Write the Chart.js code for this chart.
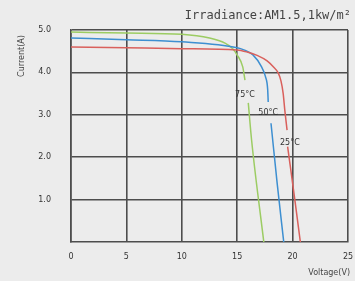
<!DOCTYPE html>
<html>
<head>
  <meta charset="utf-8" />
  <title>I-V curves</title>
  <script src="https://cdn.jsdelivr.net/npm/chart.js"></script>
  <style>
    html, body { margin: 0; padding: 0; background: #ececec; }
    #wrap { width: 355px; height: 281px; }
  </style>
</head>
<body>
  <div id="wrap"><canvas id="ivChart" width="355" height="281"></canvas></div>

  <script>
    // Voltage (V) / current (A) points, null = gap under a label
    const v25 = [0, 5, 10, 15, 15.9, 16.8, 17.7, 18.3, 18.7, 18.95, 19.15, 19.3, 19.5, 19.5, 19.55, 20.2, 20.7];
    const i25 = [4.6, 4.58, 4.56, 4.53, 4.48, 4.4, 4.27, 4.12, 3.99, 3.8, 3.5, 3.1, 2.64, null, 2.25, 1.0, 0];

    const v50 = [0, 5, 10, 15, 15.6, 16.4, 17.2, 17.55, 17.75, 17.8, 17.8, 18.05, 18.6, 19.2];
    const i50 = [4.81, 4.77, 4.72, 4.58, 4.53, 4.42, 4.13, 3.9, 3.6, 3.3, null, 2.8, 1.4, 0];

    const v75 = [0, 5, 10, 12.5, 13.9, 14.6, 15, 15.5, 15.7, 15.7, 16.0, 16.3, 17.4];
    const i75 = [4.95, 4.93, 4.9, 4.81, 4.69, 4.56, 4.41, 4.13, 3.82, null, 3.28, 2.4, 0];

    const seriesNames = ['25°C', '50°C', '75°C'];
    const seriesColors = ['#d9605c', '#3d8fd1', '#9ccc63'];

    // where each temperature label sits (V, A)
    const labelV = [19.75, 17.8, 15.7];
    const labelI = [2.33, 3.04, 3.47];

    const xTicks = [0, 5, 10, 15, 20, 25];
    const yTicks = [1, 2, 3, 4, 5];

    function toPoints(xs, ys) {
      return xs.map((x, k) => ({ x: x, y: ys[k] }));
    }

    const datasets = [
      toPoints(v25, i25),
      toPoints(v50, i50),
      toPoints(v75, i75)
    ].map((pts, k) => ({
      label: seriesNames[k],
      data: pts,
      showLine: true,
      borderColor: seriesColors[k],
      borderWidth: 1.5,
      pointRadius: 0,
      cubicInterpolationMode: 'monotone',
      spanGaps: false
    }));

    // extra text: title, axis names, curve labels
    const textPlugin = {
      id: 'texts',
      afterDatasetsDraw(chart) {
        const ctx = chart.ctx;
        const xs = chart.scales.x, ys = chart.scales.y;
        ctx.save();
        ctx.fillStyle = '#333';
        ctx.font = '8px "DejaVu Sans"';
        ctx.textAlign = 'center';
        ctx.textBaseline = 'middle';
        for (let k = 0; k < seriesNames.length; k++) {
          ctx.fillText(seriesNames[k], xs.getPixelForValue(labelV[k]), ys.getPixelForValue(labelI[k]));
        }

        ctx.fillStyle = '#444';
        ctx.font = '12px "DejaVu Sans Mono"';
        ctx.textAlign = 'right';
        ctx.fillText('Irradiance:AM1.5,1kw/m²', 351, 16);

        ctx.font = '8px "DejaVu Sans"';
        ctx.fillText('Voltage(V)', 350, 273);

        ctx.translate(22, 56);
        ctx.rotate(-Math.PI / 2);
        ctx.textAlign = 'center';
        ctx.fillText('Current(A)', 0, 0);
        ctx.restore();
      }
    };

    const ctx = document.getElementById('ivChart').getContext('2d');
    new Chart(ctx, {
      type: 'scatter',
      data: { datasets: datasets },
      plugins: [textPlugin],
      options: {
        responsive: false,
        animation: false,
        layout: { padding: { top: 30, right: 7, left: 0, bottom: 0 } },
        plugins: { legend: { display: false }, tooltip: { enabled: false } },
        scales: {
          x: {
            type: 'linear',
            min: 0, max: 25,
            afterBuildTicks(axis) { axis.ticks = xTicks.map(v => ({ value: v })); },
            afterFit(axis) { axis.height = 39; axis.paddingRight = 0; axis.paddingLeft = 0; },
            grid: { color: '#4d4d4d', lineWidth: 1.6, drawTicks: false },
            border: { color: '#4d4d4d', width: 1.6 },
            ticks: { color: '#333', font: { size: 8, family: 'DejaVu Sans' }, padding: 10 }
          },
          y: {
            type: 'linear',
            min: 0, max: 5,
            afterBuildTicks(axis) { axis.ticks = yTicks.map(v => ({ value: v })); },
            afterFit(axis) { axis.width = 71; axis.paddingTop = 0; axis.paddingBottom = 0; },
            grid: { color: '#4d4d4d', lineWidth: 1.6, drawTicks: false },
            border: { color: '#4d4d4d', width: 1.6 },
            ticks: {
              color: '#333', font: { size: 8, family: 'DejaVu Sans' }, padding: 20,
              callback: v => v.toFixed(1)
            }
          }
        }
      }
    });
  </script>
</body>
</html>
